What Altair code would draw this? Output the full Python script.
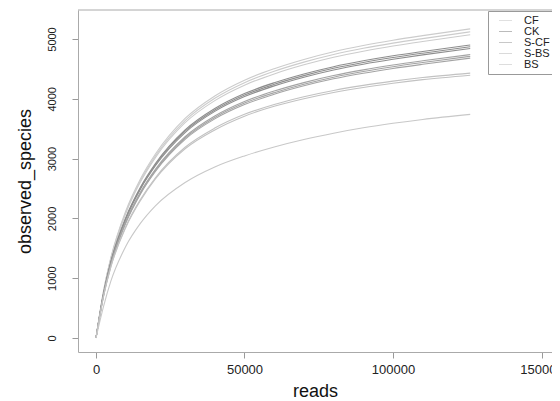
import altair as alt
import pandas as pd

groups = ["CF", "CK", "S-CF", "S-BS", "BS"]
group_colors = ["#cccccc", "#8e8e8e", "#a4a4a4", "#c2c2c2", "#c8c8c8"]

reads = [0, 2500, 5000, 10000, 15000, 20000, 30000, 40000, 50000, 60000,
         70000, 80000, 90000, 100000, 110000, 126000]

curves = {
    ("CF", "CF1"): [0, 776, 1344, 2120, 2663, 3076, 3671, 4048, 4312, 4503, 4658, 4787, 4891, 4979, 5056, 5170],
    ("CF", "CF2"): [0, 768, 1331, 2099, 2637, 3046, 3635, 4009, 4270, 4460, 4613, 4741, 4844, 4931, 5007, 5120],
    ("CF", "CF3"): [0, 761, 1318, 2079, 2611, 3017, 3600, 3970, 4228, 4416, 4568, 4695, 4796, 4882, 4958, 5070],
    ("CK", "CK1"): [0, 735, 1274, 2009, 2524, 2916, 3479, 3837, 4087, 4268, 4415, 4537, 4635, 4719, 4792, 4900],
    ("CK", "CK2"): [0, 731, 1266, 1997, 2508, 2898, 3458, 3813, 4062, 4242, 4388, 4510, 4607, 4690, 4763, 4870],
    ("CK", "CK3"): [0, 726, 1258, 1984, 2493, 2880, 3436, 3790, 4037, 4216, 4361, 4482, 4579, 4661, 4734, 4840],
    ("S-CF", "SCF1"): [0, 711, 1232, 1943, 2441, 2820, 3365, 3711, 3953, 4129, 4271, 4389, 4484, 4565, 4636, 4740],
    ("S-CF", "SCF2"): [0, 707, 1225, 1931, 2426, 2802, 3344, 3688, 3928, 4102, 4244, 4361, 4456, 4536, 4606, 4710],
    ("S-CF", "SCF3"): [0, 702, 1217, 1919, 2410, 2785, 3323, 3664, 3903, 4076, 4217, 4334, 4427, 4507, 4577, 4680],
    ("S-BS", "SBS1"): [0, 690, 1195, 1860, 2320, 2680, 3190, 3510, 3740, 3905, 4035, 4140, 4225, 4295, 4355, 4430],
    ("S-BS", "SBS2"): [0, 685, 1185, 1845, 2300, 2660, 3165, 3480, 3710, 3875, 4000, 4105, 4190, 4260, 4320, 4395],
    ("BS", "BS1"): [0, 520, 950, 1530, 1920, 2210, 2600, 2860, 3045, 3195, 3320, 3425, 3515, 3590, 3655, 3740],
}

rows = []
for (g, s), vals in curves.items():
    for r, v in zip(reads, vals):
        rows.append({"group": g, "sample": s, "reads": r, "observed_species": v})
df = pd.DataFrame(rows)

FONT = "Liberation Sans"
W, H = 474, 342
BOX = "#aaaaaa"

lines = alt.Chart(df).mark_line(strokeWidth=1.1, interpolate="monotone").encode(
    x=alt.X("reads:Q",
            scale=alt.Scale(domain=[-6060, 153535], nice=False, zero=False),
            axis=alt.Axis(values=[0, 50000, 100000, 150000], format="d", title="reads",
                          grid=False, domain=True, domainColor=BOX, tickSize=6,
                          tickColor="#999999",
                          labelFontSize=13, labelPadding=5, labelColor="#222222",
                          labelFont=FONT, titleFont=FONT, titleFontSize=18,
                          titleFontWeight="normal", titlePadding=6, titleColor="#111111",
                          labelFlush=False, labelOverlap=False)),
    y=alt.Y("observed_species:Q",
            scale=alt.Scale(domain=[-234, 5485], nice=False, zero=False),
            axis=alt.Axis(values=[0, 1000, 2000, 3000, 4000, 5000], format="d",
                          title="observed_species", grid=False, domain=True,
                          domainColor=BOX,
                          tickSize=6, tickColor="#999999", labelAngle=270,
                          labelAlign="center", labelBaseline="bottom",
                          labelFontSize=11, labelPadding=15, labelColor="#222222",
                          labelFont=FONT, titleFont=FONT, titleFontSize=18,
                          titleFontWeight="normal", titlePadding=12, titleColor="#111111",
                          labelFlush=False, labelOverlap=False)),
    color=alt.Color("group:N", sort=groups,
                    scale=alt.Scale(domain=groups, range=group_colors),
                    legend=alt.Legend(title=None, orient="none", legendX=410, legendY=1,
                                      strokeColor="#999999", fillColor="white",
                                      padding=4, symbolOffset=8, symbolType="M-1.3,0H1.3",
                                      symbolSize=100, symbolStrokeWidth=1,
                                      symbolOpacity=0.6, labelFontSize=11,
                                      labelFont=FONT, labelColor="#222222",
                                      labelExpr="datum.label + '            '",
                                      labelOffset=13, rowPadding=-2)),
    detail="sample:N",
)

top_border = alt.Chart(pd.DataFrame({"edge": ["top"]})).mark_rule(
    color=BOX, strokeWidth=1
).encode(x=alt.value(0), x2=alt.value(W + 10), y=alt.value(0))

chart = alt.layer(lines, top_border).properties(
    width=W, height=H,
    autosize=alt.AutoSizeParams(type="none"),
    padding={"left": 70, "top": 2, "right": 0, "bottom": 49},
).configure_view(stroke=None)

chart.save("out.html", embed_options={"renderer": "svg", "actions": False})
